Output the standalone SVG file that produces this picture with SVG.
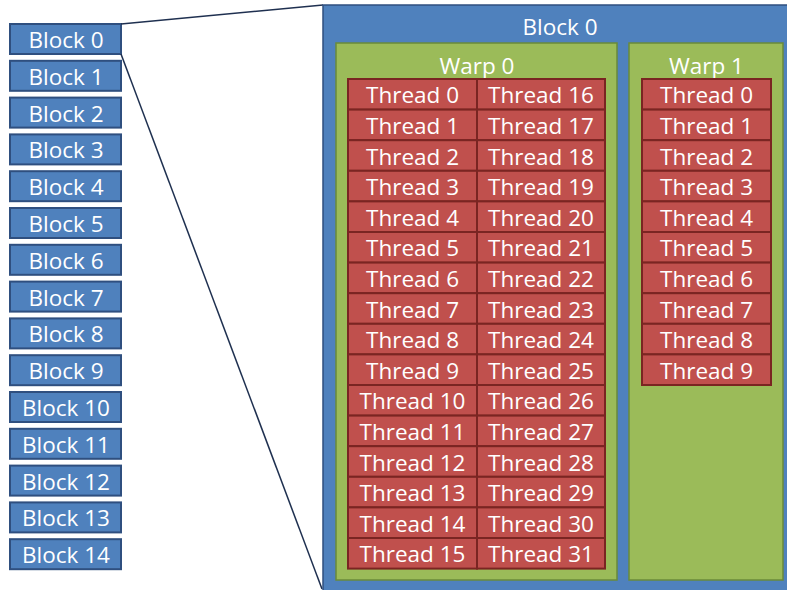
<svg xmlns="http://www.w3.org/2000/svg" width="787" height="590" viewBox="0 0 787 590">
<style>
.blk{fill:#4F81BD;stroke:#2F4F7F;stroke-width:2}
.big{fill:#4F81BD;stroke:#2F4F7F;stroke-width:1.5}
.warp{fill:#9BBB59;stroke:#6A8A3A;stroke-width:1.5}
.cell{fill:#C0504D;stroke:#7A2522;stroke-width:2}
text{font-family:"Open Sans","Liberation Sans",sans-serif;font-size:22.5px;font-weight:500;fill:#fff;text-anchor:middle}
.conn{stroke:#1F3050;stroke-width:1.5;fill:none}
</style>
<rect width="787" height="590" fill="#fff"/>
<g id="blocks">
<g id="block0"><rect class="blk" x="10" y="24" width="111" height="30"/><text x="66" y="48">Block 0</text></g>
<g id="block1"><rect class="blk" x="10" y="60.8" width="111" height="30"/><text x="66" y="84.8">Block 1</text></g>
<g id="block2"><rect class="blk" x="10" y="97.6" width="111" height="30"/><text x="66" y="121.6">Block 2</text></g>
<g id="block3"><rect class="blk" x="10" y="134.4" width="111" height="30"/><text x="66" y="158.4">Block 3</text></g>
<g id="block4"><rect class="blk" x="10" y="171.2" width="111" height="30"/><text x="66" y="195.2">Block 4</text></g>
<g id="block5"><rect class="blk" x="10" y="208" width="111" height="30"/><text x="66" y="232">Block 5</text></g>
<g id="block6"><rect class="blk" x="10" y="244.8" width="111" height="30"/><text x="66" y="268.8">Block 6</text></g>
<g id="block7"><rect class="blk" x="10" y="281.6" width="111" height="30"/><text x="66" y="305.6">Block 7</text></g>
<g id="block8"><rect class="blk" x="10" y="318.4" width="111" height="30"/><text x="66" y="342.4">Block 8</text></g>
<g id="block9"><rect class="blk" x="10" y="355.2" width="111" height="30"/><text x="66" y="379.2">Block 9</text></g>
<g id="block10"><rect class="blk" x="10" y="392" width="111" height="30"/><text x="66" y="416">Block 10</text></g>
<g id="block11"><rect class="blk" x="10" y="428.8" width="111" height="30"/><text x="66" y="452.8">Block 11</text></g>
<g id="block12"><rect class="blk" x="10" y="465.6" width="111" height="30"/><text x="66" y="489.6">Block 12</text></g>
<g id="block13"><rect class="blk" x="10" y="502.4" width="111" height="30"/><text x="66" y="526.4">Block 13</text></g>
<g id="block14"><rect class="blk" x="10" y="539.2" width="111" height="30"/><text x="66" y="563.2">Block 14</text></g>
</g>
<g id="connectors">
<line class="conn" x1="121" y1="24" x2="323" y2="5"/>
<line class="conn" x1="121" y1="54" x2="322" y2="589"/>
</g>
<g id="block0-detail">
<rect class="big" x="323" y="5" width="470" height="592"/>
<text x="560" y="35">Block 0</text>
</g>
<g id="warp0">
<rect class="warp" x="336" y="43" width="281" height="537"/>
<text x="477" y="74">Warp 0</text>
<g id="warp0-threads">
<rect class="cell" x="348" y="79" width="129" height="30.6"/><text x="412.5" y="103.3">Thread 0</text>
<rect class="cell" x="477" y="79" width="128" height="30.6"/><text x="541" y="103.3">Thread 16</text>
<rect class="cell" x="348" y="109.6" width="129" height="30.6"/><text x="412.5" y="133.9">Thread 1</text>
<rect class="cell" x="477" y="109.6" width="128" height="30.6"/><text x="541" y="133.9">Thread 17</text>
<rect class="cell" x="348" y="140.2" width="129" height="30.6"/><text x="412.5" y="164.5">Thread 2</text>
<rect class="cell" x="477" y="140.2" width="128" height="30.6"/><text x="541" y="164.5">Thread 18</text>
<rect class="cell" x="348" y="170.8" width="129" height="30.6"/><text x="412.5" y="195.1">Thread 3</text>
<rect class="cell" x="477" y="170.8" width="128" height="30.6"/><text x="541" y="195.1">Thread 19</text>
<rect class="cell" x="348" y="201.4" width="129" height="30.6"/><text x="412.5" y="225.7">Thread 4</text>
<rect class="cell" x="477" y="201.4" width="128" height="30.6"/><text x="541" y="225.7">Thread 20</text>
<rect class="cell" x="348" y="232" width="129" height="30.6"/><text x="412.5" y="256.3">Thread 5</text>
<rect class="cell" x="477" y="232" width="128" height="30.6"/><text x="541" y="256.3">Thread 21</text>
<rect class="cell" x="348" y="262.6" width="129" height="30.6"/><text x="412.5" y="286.9">Thread 6</text>
<rect class="cell" x="477" y="262.6" width="128" height="30.6"/><text x="541" y="286.9">Thread 22</text>
<rect class="cell" x="348" y="293.2" width="129" height="30.6"/><text x="412.5" y="317.5">Thread 7</text>
<rect class="cell" x="477" y="293.2" width="128" height="30.6"/><text x="541" y="317.5">Thread 23</text>
<rect class="cell" x="348" y="323.8" width="129" height="30.6"/><text x="412.5" y="348.1">Thread 8</text>
<rect class="cell" x="477" y="323.8" width="128" height="30.6"/><text x="541" y="348.1">Thread 24</text>
<rect class="cell" x="348" y="354.4" width="129" height="30.6"/><text x="412.5" y="378.7">Thread 9</text>
<rect class="cell" x="477" y="354.4" width="128" height="30.6"/><text x="541" y="378.7">Thread 25</text>
<rect class="cell" x="348" y="385" width="129" height="30.6"/><text x="412.5" y="409.3">Thread 10</text>
<rect class="cell" x="477" y="385" width="128" height="30.6"/><text x="541" y="409.3">Thread 26</text>
<rect class="cell" x="348" y="415.6" width="129" height="30.6"/><text x="412.5" y="439.9">Thread 11</text>
<rect class="cell" x="477" y="415.6" width="128" height="30.6"/><text x="541" y="439.9">Thread 27</text>
<rect class="cell" x="348" y="446.2" width="129" height="30.6"/><text x="412.5" y="470.5">Thread 12</text>
<rect class="cell" x="477" y="446.2" width="128" height="30.6"/><text x="541" y="470.5">Thread 28</text>
<rect class="cell" x="348" y="476.8" width="129" height="30.6"/><text x="412.5" y="501.1">Thread 13</text>
<rect class="cell" x="477" y="476.8" width="128" height="30.6"/><text x="541" y="501.1">Thread 29</text>
<rect class="cell" x="348" y="507.4" width="129" height="30.6"/><text x="412.5" y="531.7">Thread 14</text>
<rect class="cell" x="477" y="507.4" width="128" height="30.6"/><text x="541" y="531.7">Thread 30</text>
<rect class="cell" x="348" y="538" width="129" height="30.6"/><text x="412.5" y="562.3">Thread 15</text>
<rect class="cell" x="477" y="538" width="128" height="30.6"/><text x="541" y="562.3">Thread 31</text>
</g>
</g>
<g id="warp1">
<rect class="warp" x="629" y="43" width="154" height="537"/>
<text x="706.5" y="74">Warp 1</text>
<g id="warp1-threads">
<rect class="cell" x="642" y="79" width="129" height="30.6"/><text x="706.5" y="103.3">Thread 0</text>
<rect class="cell" x="642" y="109.6" width="129" height="30.6"/><text x="706.5" y="133.9">Thread 1</text>
<rect class="cell" x="642" y="140.2" width="129" height="30.6"/><text x="706.5" y="164.5">Thread 2</text>
<rect class="cell" x="642" y="170.8" width="129" height="30.6"/><text x="706.5" y="195.1">Thread 3</text>
<rect class="cell" x="642" y="201.4" width="129" height="30.6"/><text x="706.5" y="225.7">Thread 4</text>
<rect class="cell" x="642" y="232" width="129" height="30.6"/><text x="706.5" y="256.3">Thread 5</text>
<rect class="cell" x="642" y="262.6" width="129" height="30.6"/><text x="706.5" y="286.9">Thread 6</text>
<rect class="cell" x="642" y="293.2" width="129" height="30.6"/><text x="706.5" y="317.5">Thread 7</text>
<rect class="cell" x="642" y="323.8" width="129" height="30.6"/><text x="706.5" y="348.1">Thread 8</text>
<rect class="cell" x="642" y="354.4" width="129" height="30.6"/><text x="706.5" y="378.7">Thread 9</text>
</g>
</g>
</svg>
